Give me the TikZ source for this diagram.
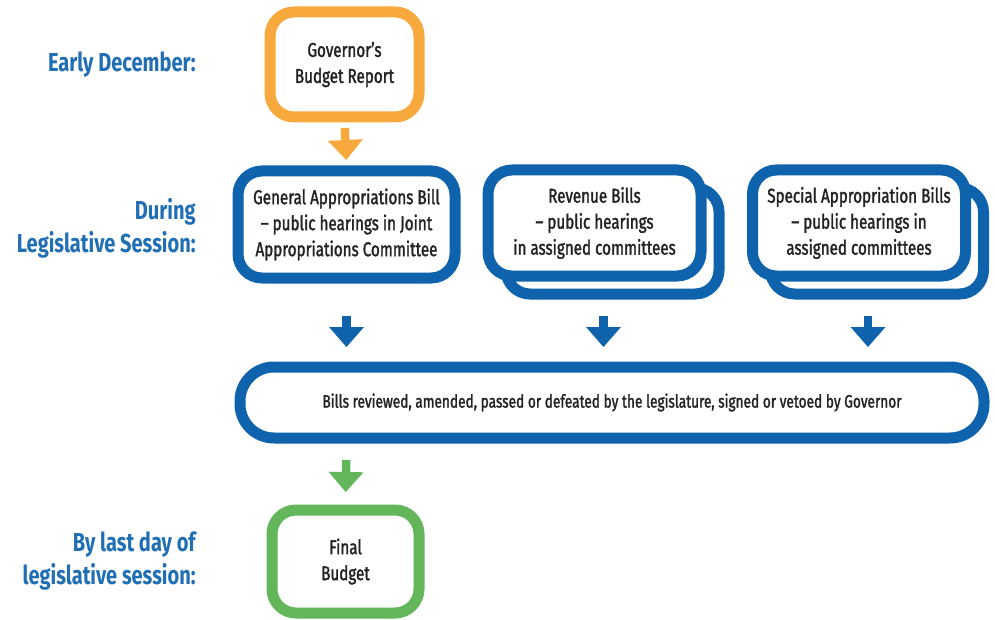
\documentclass[tikz,border=0pt]{standalone}
\usepackage{fontspec}
\setmainfont{Fira Sans}[FakeStretch=0.77]
\newfontfamily\boxfont{Fira Sans}[FakeStretch=0.76, FakeBold=1.6]
\usetikzlibrary{arrows.meta,calc}

\definecolor{govorange}{RGB}{247,169,62}
\definecolor{billblue}{RGB}{14,99,172}
\definecolor{labelblue}{RGB}{32,110,180}
\definecolor{finalgreen}{RGB}{99,182,90}
\definecolor{boxtext}{RGB}{35,35,35}

\tikzset{every picture/.style={line width=0.75pt}}
\tikzset{
  stagebox/.style={draw=#1, line width=11pt, rounded corners=24pt, fill=white,
    align=center, text=boxtext, inner sep=0pt,
    font=\boxfont\fontsize{20}{26}\selectfont},
  smallbox/.style={stagebox=#1, minimum width=149pt, minimum height=105pt},
  billbox/.style={stagebox=billblue, minimum width=213pt, minimum height=106pt},
  stagelabel/.style={anchor=east, align=right, text=labelblue, inner sep=0pt,
    font=\fontsize{26}{33}\selectfont\bfseries},
  flow/.style={draw=#1, line width=8.5pt,
    -{Triangle[width=35pt,length=20pt,line width=0pt]}},
}

\begin{document}
\begin{tikzpicture}[x=1pt,y=1pt,yscale=-1,xscale=1]
    \useasboundingbox (0,0) rectangle (995,620);

    %Shape: Governor's report
    \node[smallbox=govorange] (gov) at (344.5,64.5) {Governor’s\\Budget Report};

    %Shape: bills during the session
    \node[billbox, minimum width=217pt, minimum height=107pt] (gen) at (346.5,224.5)
        {General Appropriations Bill\\– public hearings in Joint\\Appropriations Committee};
    \node[billbox] (revback) at (612.5,241) {};
    \node[billbox] (rev) at (594.5,223) {Revenue Bills\\– public hearings\\in assigned committees};
    \node[billbox] (specback) at (877,241) {};
    \node[billbox] (spec) at (859,223) {Special Appropriation Bills\\– public hearings in\\assigned committees};

    %Shape: review by the legislature
    \node[stagebox=billblue, rounded corners=34pt, minimum width=744pt, minimum height=71pt,
        font=\boxfont\fontsize{18}{24}\selectfont] (review) at (612,402.5)
        {Bills reviewed, amended, passed or defeated by the legislature, signed or vetoed by Governor};

    %Shape: final budget
    \node[smallbox=finalgreen, minimum width=147pt, minimum height=103pt] (final) at (345.5,561.5) {Final\\Budget};

    % Text Node
    \node[stagelabel] (early) at (196,0 |- gov) {Early December:};
    % Text Node
    \node[stagelabel, yshift=-4pt] (during) at (196,0 |- gen) {During\\Legislative Session:};
    % Text Node
    \node[stagelabel] (lastday) at (196,0 |- final) {By last day of\\legislative session:};

    %Arrows (anchors sit on the outer edge of the thick border)
    \coordinate (revmid) at ($(rev.south)!0.5!(revback.south)$);
    \coordinate (specmid) at ($(spec.south)!0.5!(specback.south)$);
    \draw[flow=govorange, shorten <=5.5pt, shorten >=5.5pt] (gov.south) -- (gen.north);
    \draw[flow=billblue, shorten <=32pt, shorten >=14.5pt] (gen.south) -- (gen.south |- review.north);
    \draw[flow=billblue, shorten <=32pt, shorten >=14.5pt] (revmid |- gen.south) -- (revmid |- review.north);
    \draw[flow=billblue, shorten <=32pt, shorten >=14.5pt] (specmid |- gen.south) -- (specmid |- review.north);
    \draw[flow=finalgreen, shorten <=16.5pt, shorten >=12.5pt] (review.south -| gen.south) -- (final.north);
\end{tikzpicture}
\end{document}
